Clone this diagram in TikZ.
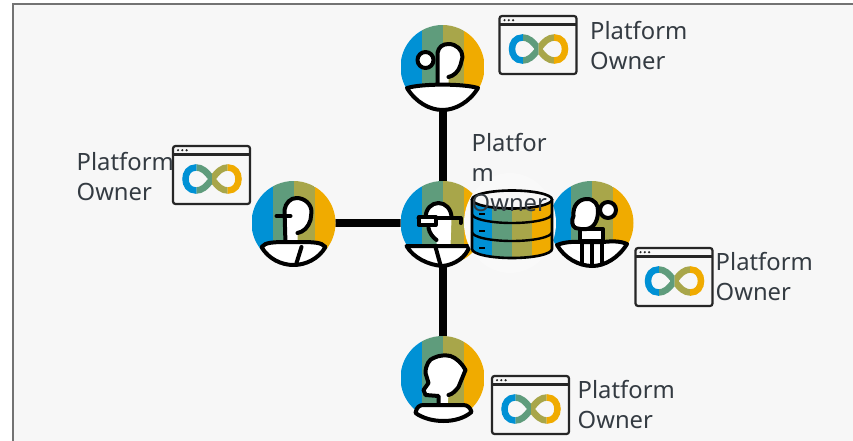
\documentclass[tikz,border=0pt]{standalone}
\usepackage{fontspec}
\setmainfont{Noto Sans}
\definecolor{sblue}{HTML}{0091D5}
\definecolor{sgreen}{HTML}{5F9C7C}
\definecolor{solive}{HTML}{A8A64A}
\definecolor{syellow}{HTML}{F0AB00}
\definecolor{pagebg}{HTML}{F7F7F7}
\definecolor{inktext}{HTML}{343B42}
\tikzset{
  anchorcircle/.style={circle,minimum size=84pt,inner sep=0pt},
  link/.style={line width=8pt,black},
  figure/.style={draw=black,line width=4pt,fill=white,line join=round,line cap=round},
  inkstroke/.style={draw=black,line width=4pt,line join=round,line cap=round},
  txtlabel/.style={anchor=north west,align=left,inner sep=0pt,text=inktext,font=\fontsize{23.8pt}{30pt}\selectfont},
}
\newcommand{\stripes}[3]{% left, width, half height
  \fill[sblue] (#1,-#3) rectangle ({#1+#2},#3);
  \fill[sgreen] ({#1+#2},-#3) rectangle ({#1+2*#2},#3);
  \fill[solive] ({#1+2*#2},-#3) rectangle ({#1+3*#2},#3);
  \fill[syellow] ({#1+3*#2},-#3) rectangle ({#1+4*#2},#3);
}
\newcommand{\disc}{%
  \fill[white] (0,0) circle (42);
  \begin{scope}
    \clip (0,0) circle (42);
    \stripes{-42}{21}{42}
  \end{scope}
}
\newcommand{\bowl}{%
  \path[figure] (-35.5,21) .. controls (-20,16.5) and (20,16.5) .. (35.5,21) .. controls (27,35) and (13,43) .. (0,43) .. controls (-13,43) and (-27,35) .. (-35.5,21) -- cycle;
}
\newcommand{\loopshape}{%
  (0,0) .. controls (-6,-8) and (-10,-11.5) .. (-16,-11.5) .. controls (-23,-11.5) and (-26.5,-6) .. (-26.5,0)
  .. controls (-26.5,6) and (-23,11.5) .. (-16,11.5) .. controls (-10,11.5) and (-6,8) .. (0,0)
  .. controls (6,-8) and (10,-11.5) .. (16,-11.5) .. controls (23,-11.5) and (26.5,-6) .. (26.5,0)
  .. controls (26.5,6) and (23,11.5) .. (16,11.5) .. controls (10,11.5) and (6,8) .. (0,0) -- cycle
}
\newcommand{\winicon}[3]{% x, y, name
  \begin{scope}[shift={(#1,#2)}]
    \node[inner sep=0pt,minimum size=0pt] (#3) at (39,29) {};
    \draw[line width=2.2pt,draw=black!85,rounded corners=2.5pt] (0,0) rectangle (77,58);
    \draw[line width=2.2pt,draw=black!85] (0,8.5) -- (77,8.5);
    \fill[black!85] (5,4.2) circle (1.2) (9.3,4.2) circle (1.2) (13.6,4.2) circle (1.2);
    \begin{scope}[shift={(39,33)}]
      \foreach \xa/\colr in {-31/sblue,-15.5/sgreen,0/solive,15.5/syellow}{
        \begin{scope}
          \clip (\xa,-20) rectangle ({\xa+15.5},20);
          \draw[line width=6.5pt,draw=\colr] \loopshape;
        \end{scope}
      }
    \end{scope}
  \end{scope}
}
\begin{document}
\begin{tikzpicture}[x=1pt,y=-1pt]
\useasboundingbox (0,0) rectangle (853,441);
\fill[white] (0,0) rectangle (853,441);
\fill[pagebg] (13,4) rectangle (853,441);
\draw[line width=1.4pt,draw=black!55] (13,441) -- (13,4) -- (853,4);

\node[anchorcircle] (hub) at (442.5,223) {};
\node[anchorcircle] (ntop) at (442.5,67) {};
\node[anchorcircle] (nbot) at (442.5,378) {};
\node[anchorcircle] (nleft) at (293.5,223) {};
\node[anchorcircle] (nright) at (591.5,223) {};

\draw[link] (hub.center) -- (ntop.center);
\draw[link] (hub.center) -- (nbot.center);
\draw[link] (hub.center) -- (nleft.center);

% top avatar
\begin{scope}[shift={(ntop.center)}]
  \disc
  \fill[white] (-5,20) -- (-5,-14) .. controls (-4,-20) and (0,-23) .. (6,-23) .. controls (14,-23) and (20,-17) .. (20,-10) -- (18,-2) .. controls (16,5) and (11,9) .. (6,10) -- (6,20) -- cycle;
  \draw[inkstroke] (-5,20) -- (-5,-14) .. controls (-4,-20) and (0,-23) .. (6,-23) .. controls (14,-23) and (20,-17) .. (20,-10) -- (18,-2) .. controls (16,5) and (11,9) .. (6,10);
  \path[figure] (-17,-7) circle (8);
  \bowl
\end{scope}

% bottom avatar
\begin{scope}[shift={(nbot.center)}]
  \disc
  \fill[white] (-4,28) -- (-4,18) -- (-17,17) -- (-19,12) -- (-14,5) -- (-17,-5) .. controls (-17,-13) and (-13,-19) .. (-9,-20) .. controls (-3,-23) and (3,-23) .. (8,-22) .. controls (14,-20) and (20,-14) .. (23,-8) -- (16,9) .. controls (13,13) and (10,16) .. (6,17) -- (5,28) -- cycle;
  \draw[inkstroke] (-4,28) -- (-4,18) -- (-17,17) -- (-19,12) -- (-14,5) -- (-17,-5) .. controls (-17,-13) and (-13,-19) .. (-9,-20) .. controls (-3,-23) and (3,-23) .. (8,-22) .. controls (14,-20) and (20,-14) .. (23,-8) -- (16,9) .. controls (13,13) and (10,16) .. (6,17);
  \path[figure] (-27,35) .. controls (-26,29) and (-23,27) .. (-19,27) -- (21,27) .. controls (25,27) and (28,30) .. (29,34) .. controls (22,40) and (12,43) .. (1,43) .. controls (-10,43) and (-20,40) .. (-27,35) -- cycle;
\end{scope}

% left avatar
\begin{scope}[shift={(nleft.center)}]
  \disc
  \fill[white] (-8,21) -- (-9,-13) .. controls (-8,-20) and (-3,-25) .. (3,-25) .. controls (11,-25) and (18,-19) .. (18,-11) -- (17,-3) .. controls (15,4) and (10,9) .. (4,10) -- (4,21) -- cycle;
  \draw[inkstroke] (-8,21) -- (-9,-13) .. controls (-8,-20) and (-3,-25) .. (3,-25) .. controls (11,-25) and (18,-19) .. (18,-11) -- (17,-3) .. controls (15,4) and (10,9) .. (4,10);
  \draw[inkstroke] (-17,-7) -- (-3,-7);
  \path[figure] (-32,24) .. controls (-28,19) and (-20,19) .. (0,19) .. controls (20,19) and (28,19) .. (32,24) .. controls (25,36) and (12,42) .. (0,42) .. controls (-12,42) and (-25,36) .. (-32,24) -- cycle;
  \draw[inkstroke] (8,24) -- (3,40);
\end{scope}

% hub avatar
\begin{scope}[shift={(hub.center)}]
  \disc
  \fill[white] (-6,24) -- (-6,17) .. controls (-11,13) and (-14,9) .. (-14,5) -- (-17,-5) .. controls (-17,-14) and (-11,-20) .. (-4,-20) .. controls (3,-20) and (9,-14) .. (9,-5) -- (8,24) -- cycle;
  \draw[inkstroke] (-14,5) .. controls (-13,10) and (-10,14) .. (-6,17);
  \draw[inkstroke] (-17,-5) .. controls (-17,-14) and (-11,-20) .. (-4,-20) .. controls (3,-20) and (9,-14) .. (9,-5);
  \draw[inkstroke] (-24,-5) -- (18,-5) -- (18,0);
  \path[figure] (-24,-6) rectangle (-7,2);
  \path[figure] (-36,23) -- (27,23) .. controls (24,34) and (12,42) .. (0,43) .. controls (-14,42) and (-29,35) .. (-36,23) -- cycle;
  \draw[inkstroke] (-7,24) -- (-2,42);
\end{scope}

% right avatar
\begin{scope}[shift={(nright.center)}]
  \disc
  \path[figure] (-11.5,6) -- (-11.5,18) -- (11.5,18) -- (11.5,6) -- cycle;
  \path[figure] (-16,5) .. controls (-20,3) and (-20,-3) .. (-18,-7) .. controls (-19,-17) and (-13,-24) .. (-4.5,-24) .. controls (3,-24) and (7,-18) .. (6.5,-12) .. controls (6.5,-3) and (3,5) .. (-5,6) -- (-11,6) -- cycle;
  \path[figure] (16.5,-13) circle (8);
  \path[figure] (-34.5,22) .. controls (-25,18) and (-14,19) .. (-10,19) -- (12,19) .. controls (20,18) and (29,18) .. (35.5,21) .. controls (27,35) and (13,43) .. (1,43) .. controls (-13,43) and (-27,35) .. (-34.5,22) -- cycle;
  \draw[inkstroke] (-9.5,20) -- (-9.5,41) (0.5,20) -- (0.5,43) (10.5,20) -- (10.5,41);
\end{scope}

% halo and database
\fill[pagebg!70!white] (510,223) ellipse [x radius=46,y radius=50];
\begin{scope}
  \clip (472,199) -- (552,199) -- (552,249) arc[start angle=0,end angle=180,x radius=40,y radius=9] -- cycle;
  \begin{scope}[shift={(472,225)}]
    \stripes{0}{20}{40}
  \end{scope}
\end{scope}
\draw[line width=2.6pt] (472,199) -- (472,249) arc[start angle=180,end angle=0,x radius=40,y radius=9] -- (552,199);
\draw[line width=2.4pt] (472,214) arc[start angle=180,end angle=0,x radius=40,y radius=9];
\draw[line width=2.4pt] (472,232) arc[start angle=180,end angle=0,x radius=40,y radius=9];
\draw[line width=2.6pt,fill=pagebg] (512,199.5) ellipse [x radius=40,y radius=9];
\draw[line width=1.8pt] (479,214) -- (485,214) (479,231) -- (485,231) (479,248) -- (485,248);

% icons
\winicon{499.5}{16}{w1}
\winicon{492}{376}{w2}
\winicon{173}{146}{w3}
\winicon{635.5}{248}{w4}

% labels
\node[txtlabel] (t1) at (590,21.5) {Platform\\Owner};
\node[txtlabel] (t2) at (577.5,380.5) {Platform\\Owner};
\node[txtlabel] (t3) at (76.5,152.5) {Platform\\Owner};
\node[txtlabel] (t4) at (715.5,252.5) {Platform\\Owner};
\node[txtlabel] (t5) at (471.5,133.5) {Platfor\\m\\Owner};
\end{tikzpicture}
\end{document}
